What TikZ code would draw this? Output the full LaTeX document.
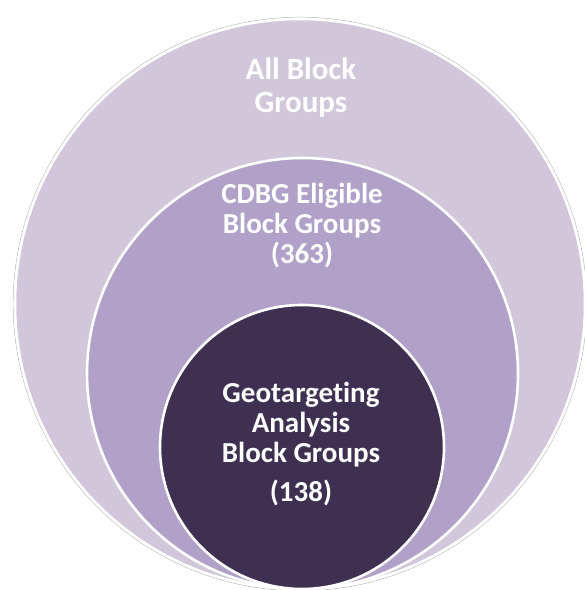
\documentclass[tikz,border=0pt]{standalone}
\usepackage{fontspec}
\setmainfont{Carlito}[Ligatures=CommonOff]
\definecolor{outerfill}{HTML}{D1C6DA}
\definecolor{midfill}{HTML}{B1A1C8}
\definecolor{innerfill}{HTML}{3F3052}
\tikzset{
  ring/.style={draw=white, line width=2.6pt},
  glow/.style={draw=black!30, line width=0.5pt},
  lbl/.style={text=white, font=\bfseries\fontsize{29}{30}\selectfont, align=center, inner sep=0pt, anchor=base},
  biglbl/.style={lbl, font=\bfseries\fontsize{31}{33}\selectfont},
}
\begin{document}
\begin{tikzpicture}[x=1pt,y=1pt]
\useasboundingbox (0,0) rectangle (585,590);
\fill[white] (0,0) rectangle (585,590);
% outer circle
\draw[glow] (300,286) circle (286.8);
\draw[ring, fill=outerfill] (300,286) circle (285);
% middle circle
\draw[ring, fill=midfill] (302.5,216.5) circle (215.5);
% inner circle
\draw[ring, fill=innerfill] (302,143) circle (142);
% labels (anchor base = baseline of last line)
\node[biglbl] (all) at (301,477.3) {All Block\\Groups};
\node[lbl] (cdbg) at (302,326.7) {CDBG Eligible\\Block Groups\\(363)};
\node[lbl] (geo) at (301,88.3) {Geotargeting\\Analysis\\Block Groups\\[9.4pt](138)};
\end{tikzpicture}
\end{document}
